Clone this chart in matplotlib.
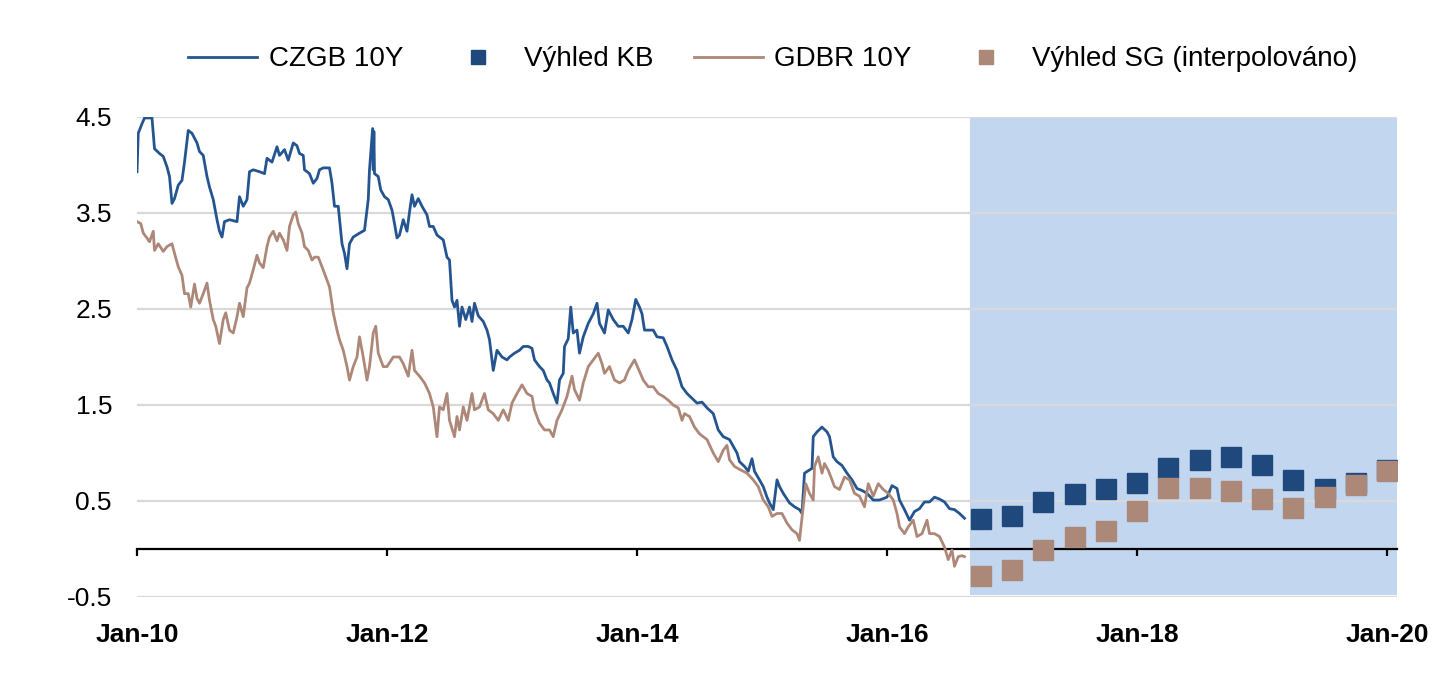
import matplotlib
matplotlib.use("Agg")
import matplotlib.pyplot as plt

plt.rcParams['font.family'] = ['Liberation Sans', 'DejaVu Sans']

# ---- data ----
czgb_t = [2010.00, 2010.01, 2010.04, 2010.06, 2010.12, 2010.13, 2010.14, 2010.18, 2010.21, 2010.24,
          2010.26, 2010.28, 2010.30, 2010.33, 2010.36, 2010.38, 2010.41, 2010.44, 2010.48, 2010.50,
          2010.53, 2010.56, 2010.58, 2010.61, 2010.64, 2010.66, 2010.68, 2010.70, 2010.74, 2010.80,
          2010.82, 2010.85, 2010.88, 2010.90, 2010.93, 2010.98, 2011.02, 2011.04, 2011.08, 2011.12,
          2011.14, 2011.18, 2011.21, 2011.25, 2011.28, 2011.30, 2011.33, 2011.34, 2011.38, 2011.41,
          2011.44, 2011.46, 2011.49, 2011.54, 2011.56, 2011.58, 2011.61, 2011.64, 2011.66, 2011.68,
          2011.70, 2011.73, 2011.78, 2011.82, 2011.85, 2011.86, 2011.885, 2011.89, 2011.895, 2011.90,
          2011.93, 2011.95, 2011.98, 2012.01, 2012.04, 2012.06, 2012.08, 2012.10, 2012.13, 2012.16,
          2012.18, 2012.20, 2012.22, 2012.25, 2012.28, 2012.32, 2012.34, 2012.37, 2012.40, 2012.42,
          2012.45, 2012.48, 2012.50, 2012.52, 2012.54, 2012.56, 2012.58, 2012.60, 2012.63, 2012.66,
          2012.68, 2012.70, 2012.73, 2012.77, 2012.80, 2012.82, 2012.85, 2012.88, 2012.92, 2012.96,
          2012.98, 2013.02, 2013.06, 2013.09, 2013.13, 2013.16, 2013.18, 2013.22, 2013.25, 2013.28,
          2013.30, 2013.33, 2013.36, 2013.38, 2013.41, 2013.42, 2013.45, 2013.47, 2013.49, 2013.52,
          2013.54, 2013.57, 2013.61, 2013.65, 2013.68, 2013.70, 2013.74, 2013.77, 2013.81, 2013.85,
          2013.89, 2013.93, 2013.96, 2013.99, 2014.02, 2014.04, 2014.06, 2014.13, 2014.16, 2014.21,
          2014.24, 2014.28, 2014.32, 2014.36, 2014.40, 2014.44, 2014.48, 2014.52, 2014.56, 2014.61,
          2014.65, 2014.69, 2014.74, 2014.77, 2014.80, 2014.82, 2014.86, 2014.89, 2014.92, 2014.94,
          2014.98, 2015.01, 2015.04, 2015.06, 2015.09, 2015.12, 2015.14, 2015.17, 2015.22, 2015.26,
          2015.30, 2015.32, 2015.34, 2015.40, 2015.41, 2015.44, 2015.48, 2015.52, 2015.54, 2015.57,
          2015.60, 2015.64, 2015.68, 2015.72, 2015.76, 2015.80, 2015.84, 2015.89, 2015.94, 2016.00,
          2016.04, 2016.08, 2016.10, 2016.14, 2016.18, 2016.22, 2016.26, 2016.30, 2016.34, 2016.38,
          2016.42, 2016.46, 2016.50, 2016.54, 2016.58, 2016.62]
czgb_v = [3.93, 4.33, 4.43, 4.49, 4.49, 4.33, 4.17, 4.12, 4.09, 3.98,
          3.88, 3.60, 3.65, 3.79, 3.84, 4.03, 4.36, 4.33, 4.23, 4.14,
          4.10, 3.88, 3.77, 3.64, 3.43, 3.31, 3.25, 3.41, 3.43, 3.41,
          3.67, 3.57, 3.64, 3.93, 3.95, 3.93, 3.91, 4.07, 4.03, 4.19,
          4.10, 4.16, 4.05, 4.23, 4.20, 4.12, 4.10, 3.95, 3.91, 3.81,
          3.86, 3.95, 3.97, 3.97, 3.81, 3.57, 3.57, 3.18, 3.08, 2.92,
          3.18, 3.25, 3.29, 3.32, 3.64, 3.95, 4.38, 3.95, 4.35, 3.91,
          3.88, 3.74, 3.67, 3.64, 3.53, 3.39, 3.24, 3.27, 3.43, 3.31,
          3.51, 3.69, 3.57, 3.65, 3.57, 3.48, 3.36, 3.36, 3.27, 3.25,
          3.22, 3.04, 3.01, 2.59, 2.52, 2.59, 2.32, 2.52, 2.39, 2.52,
          2.37, 2.56, 2.43, 2.37, 2.28, 2.18, 1.86, 2.07, 2.00, 1.97,
          2.00, 2.04, 2.07, 2.11, 2.11, 2.09, 1.97, 1.90, 1.86, 1.76,
          1.73, 1.62, 1.52, 1.76, 1.83, 2.11, 2.19, 2.52, 2.25, 2.28,
          2.04, 2.21, 2.35, 2.45, 2.56, 2.35, 2.25, 2.49, 2.39, 2.32,
          2.32, 2.25, 2.39, 2.60, 2.52, 2.45, 2.28, 2.28, 2.21, 2.20,
          2.11, 1.97, 1.86, 1.69, 1.62, 1.57, 1.52, 1.53, 1.47, 1.41,
          1.24, 1.17, 1.14, 1.07, 1.00, 0.91, 0.86, 0.81, 0.94, 0.81,
          0.72, 0.65, 0.54, 0.48, 0.41, 0.72, 0.65, 0.58, 0.48, 0.44,
          0.41, 0.37, 0.79, 0.84, 1.17, 1.22, 1.27, 1.22, 1.17, 0.96,
          0.91, 0.87, 0.79, 0.72, 0.63, 0.61, 0.58, 0.51, 0.51, 0.54,
          0.66, 0.63, 0.51, 0.41, 0.30, 0.39, 0.42, 0.49, 0.49, 0.54,
          0.52, 0.49, 0.42, 0.41, 0.37, 0.32]

gdbr_t = [2010.00, 2010.03, 2010.05, 2010.08, 2010.10, 2010.13, 2010.14, 2010.17, 2010.21, 2010.24,
          2010.28, 2010.30, 2010.33, 2010.36, 2010.38, 2010.41, 2010.43, 2010.46, 2010.48, 2010.50,
          2010.53, 2010.56, 2010.58, 2010.61, 2010.63, 2010.66, 2010.69, 2010.71, 2010.74, 2010.77,
          2010.80, 2010.82, 2010.85, 2010.88, 2010.90, 2010.93, 2010.96, 2010.98, 2011.01, 2011.04,
          2011.06, 2011.09, 2011.12, 2011.14, 2011.17, 2011.20, 2011.22, 2011.25, 2011.27, 2011.29,
          2011.32, 2011.34, 2011.37, 2011.40, 2011.42, 2011.45, 2011.48, 2011.52, 2011.54, 2011.57,
          2011.60, 2011.62, 2011.65, 2011.68, 2011.70, 2011.73, 2011.76, 2011.78, 2011.81, 2011.84,
          2011.86, 2011.89, 2011.91, 2011.93, 2011.97, 2012.00, 2012.05, 2012.10, 2012.13, 2012.17,
          2012.20, 2012.22, 2012.26, 2012.30, 2012.34, 2012.37, 2012.40, 2012.42, 2012.45, 2012.48,
          2012.50, 2012.54, 2012.56, 2012.58, 2012.61, 2012.64, 2012.68, 2012.70, 2012.74, 2012.78,
          2012.81, 2012.85, 2012.89, 2012.93, 2012.97, 2013.00, 2013.04, 2013.08, 2013.12, 2013.16,
          2013.18, 2013.22, 2013.26, 2013.30, 2013.33, 2013.36, 2013.40, 2013.44, 2013.48, 2013.50,
          2013.54, 2013.57, 2013.61, 2013.65, 2013.69, 2013.72, 2013.74, 2013.78, 2013.82, 2013.86,
          2013.90, 2013.93, 2013.98, 2014.02, 2014.05, 2014.09, 2014.13, 2014.17, 2014.21, 2014.25,
          2014.29, 2014.33, 2014.36, 2014.38, 2014.42, 2014.46, 2014.50, 2014.56, 2014.61, 2014.65,
          2014.69, 2014.72, 2014.74, 2014.78, 2014.82, 2014.88, 2014.93, 2014.97, 2015.01, 2015.05,
          2015.08, 2015.12, 2015.16, 2015.20, 2015.24, 2015.28, 2015.30, 2015.33, 2015.35, 2015.38,
          2015.41, 2015.42, 2015.45, 2015.48, 2015.50, 2015.53, 2015.56, 2015.58, 2015.62, 2015.66,
          2015.70, 2015.74, 2015.78, 2015.82, 2015.85, 2015.89, 2015.93, 2015.97, 2016.01, 2016.05,
          2016.08, 2016.10, 2016.14, 2016.17, 2016.21, 2016.24, 2016.28, 2016.32, 2016.34, 2016.38,
          2016.42, 2016.46, 2016.49, 2016.52, 2016.54, 2016.57, 2016.60, 2016.62]
gdbr_v = [3.41, 3.39, 3.29, 3.24, 3.20, 3.31, 3.11, 3.18, 3.10, 3.15,
          3.18, 3.08, 2.94, 2.85, 2.66, 2.66, 2.52, 2.76, 2.61, 2.56,
          2.66, 2.77, 2.59, 2.39, 2.32, 2.14, 2.39, 2.46, 2.28, 2.25,
          2.42, 2.56, 2.42, 2.72, 2.77, 2.91, 3.06, 2.98, 2.93, 3.15,
          3.25, 3.31, 3.21, 3.29, 3.22, 3.11, 3.36, 3.48, 3.51, 3.39,
          3.29, 3.15, 3.11, 3.01, 3.04, 3.04, 2.94, 2.80, 2.73, 2.46,
          2.28, 2.18, 2.07, 1.90, 1.76, 1.90, 2.00, 2.21, 2.00, 1.76,
          1.90, 2.25, 2.32, 2.04, 1.90, 1.90, 2.00, 2.00, 1.93, 1.80,
          2.07, 1.86, 1.80, 1.73, 1.62, 1.48, 1.17, 1.48, 1.45, 1.62,
          1.34, 1.17, 1.38, 1.24, 1.48, 1.34, 1.62, 1.45, 1.48, 1.62,
          1.45, 1.41, 1.34, 1.45, 1.34, 1.52, 1.62, 1.71, 1.62, 1.59,
          1.45, 1.31, 1.24, 1.24, 1.17, 1.34, 1.45, 1.59, 1.80, 1.66,
          1.55, 1.73, 1.90, 1.97, 2.04, 1.93, 1.83, 1.90, 1.76, 1.73,
          1.76, 1.86, 1.97, 1.85, 1.76, 1.69, 1.69, 1.62, 1.59, 1.55,
          1.50, 1.47, 1.34, 1.41, 1.38, 1.27, 1.20, 1.14, 1.00, 0.91,
          1.03, 1.08, 0.93, 0.86, 0.83, 0.79, 0.72, 0.65, 0.51, 0.44,
          0.34, 0.37, 0.37, 0.27, 0.20, 0.16, 0.09, 0.44, 0.68, 0.58,
          0.51, 0.86, 0.96, 0.79, 0.89, 0.82, 0.72, 0.65, 0.62, 0.75,
          0.72, 0.58, 0.55, 0.44, 0.68, 0.55, 0.68, 0.62, 0.58, 0.51,
          0.37, 0.23, 0.16, 0.23, 0.30, 0.13, 0.16, 0.30, 0.16, 0.16,
          0.13, 0.02, -0.11, -0.01, -0.18, -0.08, -0.07, -0.08]

outlook_t = [2016.75, 2017.00, 2017.25, 2017.50, 2017.75, 2018.00, 2018.25,
             2018.50, 2018.75, 2019.00, 2019.25, 2019.50, 2019.75, 2020.00]
outlook_kb = [0.31, 0.34, 0.49, 0.57, 0.63, 0.69, 0.84,
              0.93, 0.96, 0.87, 0.72, 0.63, 0.69, 0.82]
outlook_sg = [-0.28, -0.22, -0.01, 0.13, 0.19, 0.40, 0.64,
              0.64, 0.60, 0.52, 0.43, 0.54, 0.67, 0.81]

forecast_span = (2016.665, 2020.08)
x_ticks = [2010, 2012, 2014, 2016, 2018, 2020]
x_labels = ['Jan-10', 'Jan-12', 'Jan-14', 'Jan-16', 'Jan-18', 'Jan-20']
y_ticks = [-0.5, 0.5, 1.5, 2.5, 3.5, 4.5]
y_labels = ['-0.5', '0.5', '1.5', '2.5', '3.5', '4.5']

# ---- styling ----
BLUE_LINE = '#245590'
BLUE_MARK = '#1F497D'
BROWN_LINE = '#AD8878'
BROWN_MARK = '#AB8878'
SHADE = '#C2D7EF'
GRID = '#D9D9D9'

fig = plt.figure(figsize=(14.5, 6.82), dpi=100)
ax = fig.add_axes([137 / 1450, 1 - 597 / 682, (1397 - 137) / 1450, (597 - 117) / 682])

ax.axvspan(forecast_span[0], forecast_span[1], ymin=0.005, ymax=1.0,
           color=SHADE, lw=0, zorder=0.2)

ax.plot(czgb_t, czgb_v, color=BLUE_LINE, lw=2.0, label='CZGB 10Y', zorder=3)
ax.plot(outlook_t, outlook_kb, ls='none', marker='s', ms=14, color=BLUE_MARK,
        mec=BLUE_MARK, label='Výhled KB', zorder=4)
ax.plot(gdbr_t, gdbr_v, color=BROWN_LINE, lw=2.0, label='GDBR 10Y', zorder=3)
ax.plot(outlook_t, outlook_sg, ls='none', marker='s', ms=14, color=BROWN_MARK,
        mec=BROWN_MARK, label='Výhled SG (interpolováno)', zorder=5)

ax.set_xlim(2010.0, 2020.08)
ax.set_ylim(-0.5, 4.5)

ax.set_axisbelow(True)
ax.set_yticks(y_ticks)
ax.set_yticklabels(y_labels)
ax.yaxis.grid(True, color=GRID, lw=1.6)
ax.tick_params(axis='y', length=0, pad=18, labelsize=19)

for s in ('top', 'right', 'left'):
    ax.spines[s].set_visible(False)
ax.spines['bottom'].set_position(('data', 0))
ax.spines['bottom'].set_color('black')
ax.spines['bottom'].set_linewidth(1.6)
ax.spines['bottom'].set_zorder(2.5)

ax.set_xticks(x_ticks)
ax.set_xticklabels(x_labels, fontweight='bold')
ax.tick_params(axis='x', direction='out', length=5, width=1.6, pad=48, labelsize=19)

fig.legend(loc='center', bbox_to_anchor=(0.533, 0.913), ncol=4, frameon=False,
           fontsize=20, handlelength=2.5, handletextpad=0.4, columnspacing=1.45,
           markerscale=0.68)

fig.savefig('out.png', dpi=100)
